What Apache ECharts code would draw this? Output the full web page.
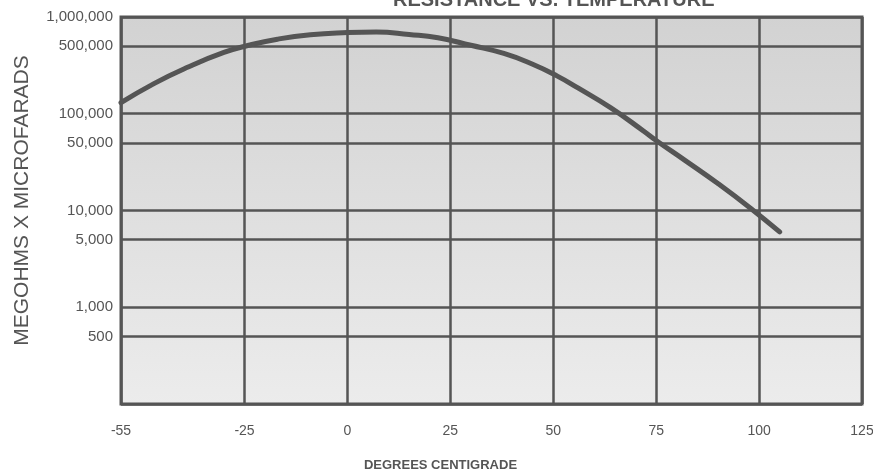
<!DOCTYPE html>
<html>
<head>
<meta charset="utf-8">
<script src="https://cdn.jsdelivr.net/npm/echarts@6/dist/echarts.min.js"></script>
<style>html,body{margin:0;padding:0;background:#fff}#c{width:873px;height:474px}</style>
</head>
<body>
<div id="c"></div>
<script>
const xTicks = [-55, -25, 0, 25, 50, 75, 100, 125];
const yLabelValues = [500, 1000, 5000, 10000, 50000, 100000, 500000, 1000000];
const yLineValues = [100, 500, 1000, 5000, 10000, 50000, 100000, 500000, 1000000];
const temps = [-55, -47, -39, -30, -24, -17, -9, 0, 7, 15, 22, 30, 38, 45, 51, 56, 64, 72, 75, 82, 90, 98, 105];
const resist = [130000, 205000, 300000, 430000, 510000, 590000, 655000, 690000, 700000, 660000, 610000, 510000, 420000, 325000, 245000, 185000, 115000, 66000, 53000, 33000, 19000, 10500, 6000];
const titleText = 'RESISTANCE VS. TEMPERATURE';

const FONT = "'Liberation Sans', Arial, sans-serif";
const INK = '#555555';

const chart = echarts.init(document.getElementById('c'));
chart.setOption({
  animation: false,
  backgroundColor: '#ffffff',
  graphic: [{
    type: 'text',
    x: 393,
    y: -10,
    silent: true,
    style: {
      text: titleText,
      font: "bold 20px 'Liberation Sans', Arial, sans-serif",
      fill: INK
    }
  }],
  grid: {
    left: 121, right: 11, top: 17, bottom: 70,
    containLabel: false,
    outerBoundsMode: 'none',
    show: true,
    borderColor: INK,
    borderWidth: 3,
    backgroundColor: new echarts.graphic.LinearGradient(0, 0, 0, 1, [
      { offset: 0, color: '#d2d2d2' },
      { offset: 1, color: '#ececec' }
    ])
  },
  xAxis: {
    type: 'value',
    min: -55,
    max: 125,
    name: 'DEGREES CENTIGRADE',
    nameLocation: 'middle',
    nameGap: 55,
    nameTextStyle: { fontFamily: FONT, fontWeight: 'bold', fontSize: 13, color: INK, padding: [0, 102, 0, 0] },
    axisLine: { show: false },
    axisTick: { show: false, customValues: xTicks },
    axisLabel: { customValues: xTicks, margin: 20, fontFamily: FONT, fontSize: 14, color: INK },
    splitLine: { show: true, lineStyle: { color: INK, width: 2.5 } }
  },
  yAxis: {
    type: 'log',
    logBase: 10,
    min: 100,
    max: 1000000,
    name: 'MEGOHMS X MICROFARADS',
    nameLocation: 'middle',
    nameGap: 88,
    nameTextStyle: { fontFamily: FONT, fontSize: 21, color: INK, padding: [0, 0, 0, 20] },
    axisLine: { show: false },
    axisTick: { show: false, customValues: yLineValues },
    axisLabel: {
      customValues: yLabelValues,
      margin: 8,
      fontFamily: FONT,
      fontSize: 15,
      color: INK,
      formatter: v => Number(v).toLocaleString('en-US')
    },
    splitLine: { show: true, lineStyle: { color: INK, width: 2.5 } },
    minorSplitLine: { show: false }
  },
  series: [{
    type: 'line',
    smooth: true,
    showSymbol: false,
    data: temps.map((t, i) => [t, resist[i]]),
    lineStyle: { color: INK, width: 5, cap: 'round' }
  }]
});
</script>
</body>
</html>
